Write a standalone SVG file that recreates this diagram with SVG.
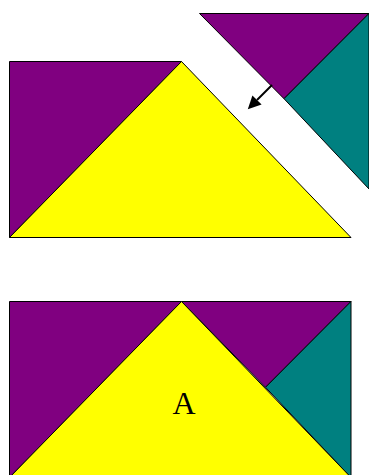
<svg xmlns="http://www.w3.org/2000/svg" width="369" height="475" viewBox="0 0 369 475">
<style>
.p{fill:#800080;stroke:#000;stroke-width:1;stroke-linejoin:miter}
.t{fill:#008080;stroke:#000;stroke-width:1}
.y{fill:#ffff00;stroke:#000;stroke-width:1}
.lbl{font-family:"Liberation Serif","Times New Roman",serif;font-size:32px;fill:#000}
</style>
<defs>
<marker id="ah" markerUnits="userSpaceOnUse" markerWidth="14" markerHeight="14" refX="0" refY="6.5" orient="auto">
<path d="M0,0 L13,6.5 L0,13 Z" fill="#000"/>
</marker>
</defs>
<g id="top-purple-left"><polygon class="p" points="9.5,61.5 181.5,61.5 9.5,237.5"/></g>
<g id="top-yellow"><polygon class="y" points="181.5,61.5 351,237.5 9.5,237.5"/></g>
<g id="moving-purple"><polygon class="p" points="199.5,13.5 369,13.5 284,98.7"/></g>
<g id="moving-teal"><polygon class="t" points="369,13.5 284,98.7 369,189"/></g>
<g id="bottom-purple-left"><polygon class="p" points="9.5,301.5 181.5,301.5 9.5,477.5"/></g>
<g id="bottom-purple-right"><polygon class="p" points="181.5,301.5 351,301.5 265.5,387.3"/></g>
<g id="bottom-teal"><polygon class="t" points="351,301.5 265.5,387.3 351,477.5"/></g>
<g id="bottom-yellow"><polygon class="y" points="181.5,301.5 351,477.5 9.5,477.5"/><text class="lbl" x="184" y="414" text-anchor="middle">A</text></g>
<g id="connectors"><line x1="272" y1="85" x2="257" y2="100" stroke="#000" stroke-width="2" marker-end="url(#ah)"/></g>
</svg>
